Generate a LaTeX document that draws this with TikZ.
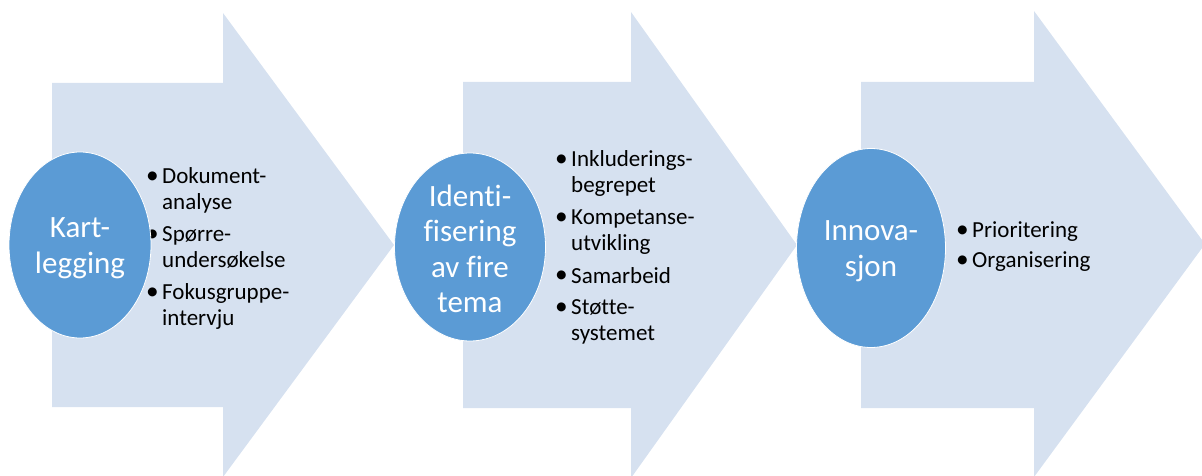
\documentclass[tikz,border=0pt]{standalone}
\usepackage{fontspec}
\setmainfont[Ligatures=NoCommon]{Carlito}
\usetikzlibrary{shapes.geometric}
\definecolor{arrowfill}{RGB}{214,225,240}
\definecolor{ellfill}{RGB}{91,155,213}
\newcommand{\bitem}{\makebox[15pt][l]{\hspace*{-1pt}\scalebox{1.1}{\textbullet}}}
\newcommand{\bcont}{\hspace*{15pt}}
\tikzset{
  bigarrow/.style={fill=arrowfill, draw=none},
  stage/.style={ellipse, fill=ellfill, draw=white, line width=0.8pt, inner sep=0pt},
  stagetext/.style={text=white, align=center, inner sep=0pt, font=\fontsize{31}{35.5}\selectfont},
  blist/.style={anchor=base west, inner sep=0pt, font=\fontsize{23}{26}\selectfont}
}
\begin{document}
\begin{tikzpicture}[x=1pt,y=-1pt]
\useasboundingbox (0,0) rectangle (1202,476);
\clip (0,0) rectangle (1202,476);
% arrows
\fill[bigarrow] (52,83) -- (223,83) -- (223,13) -- (394,245) -- (223,477) -- (223,407) -- (52,407) -- cycle;
\fill[bigarrow] (463,82) -- (631,82) -- (631,12) -- (797,245) -- (631,478) -- (631,408) -- (463,408) -- cycle;
\fill[bigarrow] (861,82) -- (1034,82) -- (1034,11) -- (1205,244) -- (1034,477) -- (1034,408) -- (861,408) -- cycle;
% lists
\node[blist] (l1) at (147,183) {\begin{tabular}[t]{@{}l@{}}
\bitem Dokument-\\ \bcont analyse\\[6pt]
\bitem Spørre-\\ \bcont undersøkelse\\[6pt]
\bitem Fokusgruppe-\\ \bcont intervju
\end{tabular}};
\node[blist] (l2) at (556,167) {\begin{tabular}[t]{@{}l@{}}
\bitem Inkluderings-\\ \bcont begrepet\\[6pt]
\bitem Kompetanse-\\ \bcont utvikling\\[6pt]
\bitem Samarbeid\\[6pt]
\bitem Støtte-\\ \bcont systemet
\end{tabular}};
\node[blist] (l3) at (957,237) {\begin{tabular}[t]{@{}l@{}}
\bitem Prioritering\\[4pt]
\bitem Organisering
\end{tabular}};
% stages
\node[stage, minimum width=142pt, minimum height=186pt] (s1) at (80,245) {};
\node[stage, minimum width=151pt, minimum height=188pt] (s2) at (470,247) {};
\node[stage, minimum width=149pt, minimum height=199pt] (s3) at (871,248) {};
\node[stagetext, yshift=-3pt] (t1) at (s1.center) {Kart-\\legging};
\node[stagetext, yshift=-2pt] (t2) at (s2.center) {Identi-\\fisering\\av fire\\tema};
\node[stagetext, yshift=-3pt] (t3) at (s3.center) {Innova-\\sjon};
\end{tikzpicture}
\end{document}
